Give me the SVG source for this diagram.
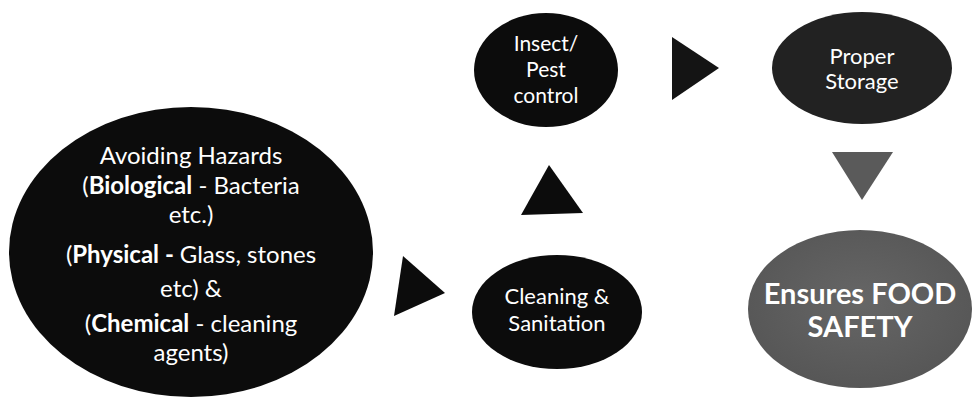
<svg xmlns="http://www.w3.org/2000/svg" width="976" height="399" viewBox="0 0 976 399">
  <style>
    text { font-family: Lato, "Open Sans", "Liberation Sans", sans-serif; fill: #ffffff; text-anchor: middle; }
    .big { font-size: 24px; }
    .pest { font-size: 21px; }
    .mid { font-size: 22px; }
    .small { font-size: 22px; }
    .res { font-size: 29px; font-weight: bold; }
    .b { font-weight: bold; }
    .dark { fill: #0c0c0c; }
  </style>
  <defs>
    <radialGradient id="resultFill" cx="0.5" cy="0.45" r="0.6">
      <stop offset="0" stop-color="#666666"/>
      <stop offset="1" stop-color="#555555"/>
    </radialGradient>
  </defs>
  <rect width="976" height="399" fill="#ffffff"/>

  <g id="connectors">
    <polygon class="dark" points="403,256 445,293 394,316"/>
    <polygon class="dark" points="549,165 583,213 521,215"/>
    <polygon fill="#141414" points="672,37 719,68 672,100"/>
    <polygon fill="#5a5a5a" points="832,152 893,152 862,200"/>
  </g>

  <g id="hazards">
    <ellipse class="dark" cx="191" cy="252" rx="182" ry="145"/>
    <text class="big" x="191" y="164">Avoiding Hazards</text>
    <text class="big" x="191" y="194">(<tspan class="b">Biological</tspan> - Bacteria</text>
    <text class="big" x="191" y="223">etc.)</text>
    <text class="big" x="191" y="263">(<tspan class="b">Physical - </tspan>Glass, stones</text>
    <text class="big" x="191" y="297">etc) &amp;</text>
    <text class="big" x="191" y="332">(<tspan class="b">Chemical</tspan> - cleaning</text>
    <text class="big" x="191" y="361">agents)</text>
  </g>

  <g id="cleaning">
    <ellipse class="dark" cx="557" cy="312" rx="85" ry="57"/>
    <text class="mid" x="557" y="304">Cleaning &amp;</text>
    <text class="mid" x="557" y="331">Sanitation</text>
  </g>

  <g id="pest">
    <ellipse class="dark" cx="546" cy="70" rx="72" ry="57"/>
    <text class="pest" x="546" y="51">Insect/</text>
    <text class="pest" x="546" y="77">Pest</text>
    <text class="pest" x="546" y="103">control</text>
  </g>

  <g id="storage">
    <ellipse fill="#222222" cx="862" cy="68" rx="90" ry="56"/>
    <text class="small" x="862" y="64">Proper</text>
    <text class="small" x="862" y="89">Storage</text>
  </g>

  <g id="safety">
    <ellipse fill="url(#resultFill)" cx="860" cy="309" rx="112" ry="79"/>
    <text class="res" x="860" y="304">Ensures FOOD</text>
    <text class="res" x="860" y="337">SAFETY</text>
  </g>
</svg>
